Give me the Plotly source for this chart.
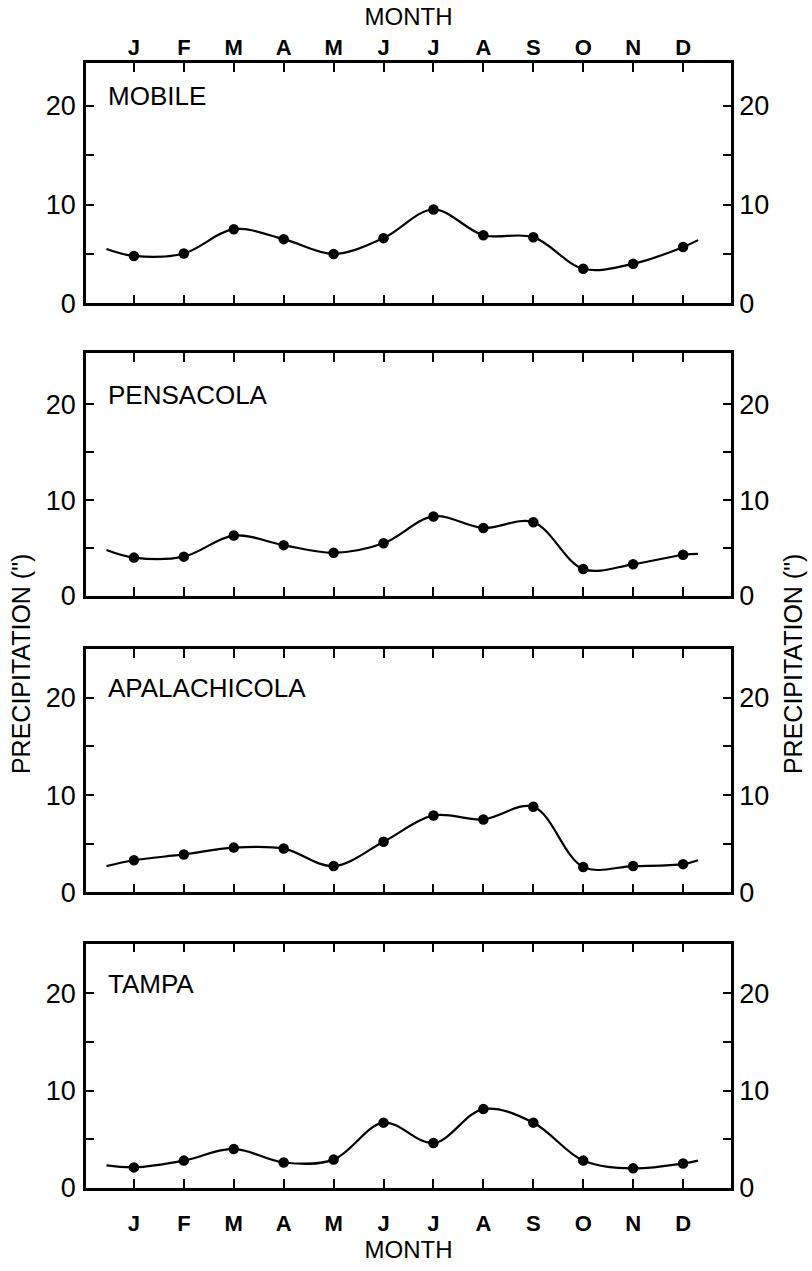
import plotly.graph_objects as go

# ---------------- data ----------------
month_labels = ["J", "F", "M", "A", "M", "J", "J", "A", "S", "O", "N", "D"]
month_num = list(range(1, 13))
stations = ["MOBILE", "PENSACOLA", "APALACHICOLA", "TAMPA"]

mobile = [4.8, 5.05, 7.5, 6.5, 5.0, 6.6, 9.5, 6.9, 6.7, 3.5, 4.0, 5.7]
pensacola = [4.0, 4.1, 6.3, 5.3, 4.5, 5.5, 8.3, 7.1, 7.7, 2.8, 3.3, 4.3]
apalachicola = [3.3, 3.9, 4.6, 4.5, 2.7, 5.2, 7.9, 7.5, 8.8, 2.6, 2.7, 2.9]
tampa = [2.1, 2.8, 4.0, 2.6, 2.9, 6.7, 4.6, 8.1, 6.7, 2.8, 2.0, 2.5]

# smooth curve runs a little beyond January and December
curve_lead_x = 0.45
curve_tail_x = 12.3
curve_lead = [5.5, 4.8, 2.7, 2.3]
curve_tail = [6.4, 4.4, 3.3, 2.8]

y_tickvals = [0, 5, 10, 15, 20]
y_ticktext = ["0", "", "10", "", "20"]

series = [mobile, pensacola, apalachicola, tampa]

# ---------------- layout constants ----------------
W, H = 812, 1271
x_dom = [86 / W, 731 / W]
panel_px = [(64, 307), (357, 603), (657, 903), (955, 1202)]  # top, bottom pixel
y_tops = [24.3, 25.4, 25.0, 25.1]
FONT = "Liberation Sans, Arial, sans-serif"

fig = go.Figure()
layout = dict(
    width=W, height=H, autosize=False,
    margin=dict(l=0, r=0, t=0, b=0),
    paper_bgcolor="white", plot_bgcolor="white",
    showlegend=False,
    font=dict(family=FONT, color="black"),
    annotations=[],
)

for i, (name, vals) in enumerate(zip(stations, series)):
    k = i + 1
    kr = i + 5
    xa = "x" if k == 1 else f"x{k}"
    ya = "y" if k == 1 else f"y{k}"
    yr = f"y{kr}"
    top_px, bot_px = panel_px[i]
    dom = [1 - bot_px / H, 1 - top_px / H]

    # smooth line
    fig.add_trace(go.Scatter(
        x=[curve_lead_x] + month_num + [curve_tail_x],
        y=[curve_lead[i]] + vals + [curve_tail[i]],
        mode="lines",
        line=dict(color="black", width=2.2, shape="spline", smoothing=1.0),
        xaxis=xa, yaxis=ya, hoverinfo="skip",
    ))
    # points (plotted on right-hand axis which shares the same scale)
    fig.add_trace(go.Scatter(
        x=month_num, y=vals, mode="markers",
        marker=dict(color="black", size=10.5),
        xaxis=xa, yaxis=yr,
    ))

    side = "top" if i == 0 else "bottom"
    show_x_labels = i in (0, 3)
    xaxis = dict(
        domain=x_dom, anchor=ya, range=[0.04, 12.96],
        tickvals=month_num, ticktext=month_labels,
        showticklabels=show_x_labels, side=side,
        ticks="inside", ticklen=9, tickwidth=2, tickcolor="black",
        showline=True, linewidth=2.5, linecolor="black", mirror="ticks",
        showgrid=False, zeroline=False,
        tickfont=dict(family=FONT, size=22, weight="bold"),
        ticklabelstandoff=-3 if i == 0 else 14,
    )
    if i in (0, 3):
        xaxis["title"] = dict(text="MONTH", font=dict(family=FONT, size=24),
                              standoff=3 if i == 0 else 6)
    layout["xaxis" if k == 1 else f"xaxis{k}"] = xaxis

    common_y = dict(
        range=[0, y_tops[i]],
        tickvals=y_tickvals, ticktext=y_ticktext,
        ticks="inside", ticklen=8, tickwidth=2, tickcolor="black",
        showline=True, linewidth=2.5, linecolor="black",
        showgrid=False, zeroline=False,
        tickfont=dict(family=FONT, size=27),
    )
    layout["yaxis" if k == 1 else f"yaxis{k}"] = dict(
        domain=dom, anchor=xa, side="left", ticklabelstandoff=2, **common_y)
    layout[f"yaxis{kr}"] = dict(
        overlaying=ya, anchor=xa, side="right", ticklabelstandoff=0, **common_y)

    layout["annotations"].append(dict(
        text=name, xref=f"{xa} domain", yref=ya, x=0.031, y=21,
        xanchor="left", yanchor="middle", showarrow=False,
        font=dict(family=FONT, size=26, color="black"),
    ))

for xpos in (21 / W, 793 / W):
    layout["annotations"].append(dict(
        text="PRECIPITATION (\")", xref="paper", yref="paper",
        x=xpos, y=1 - 672 / H, textangle=-90,
        xanchor="center", yanchor="middle", showarrow=False,
        font=dict(family=FONT, size=25, color="black"),
    ))

fig.update_layout(**layout)
fig.write_html("out.html")
